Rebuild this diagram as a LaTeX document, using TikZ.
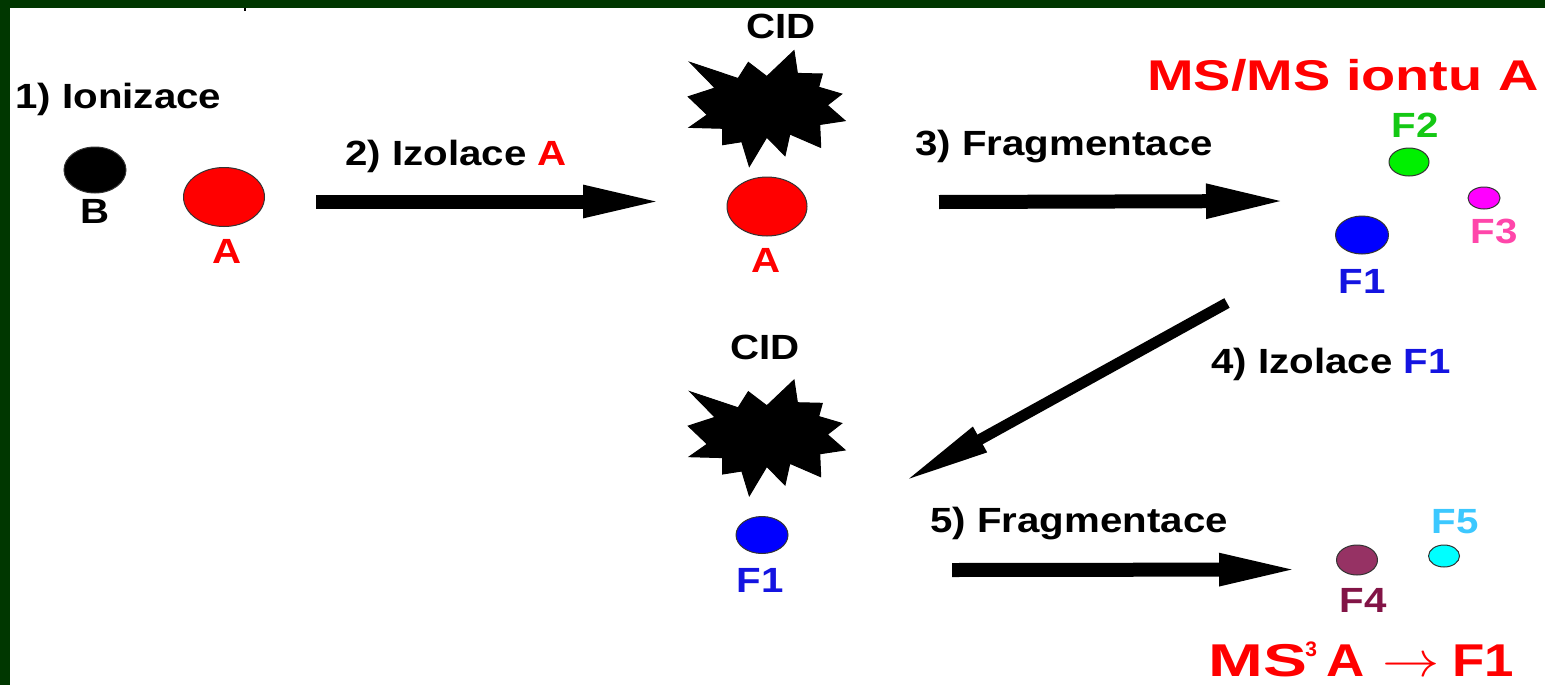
\documentclass[tikz,border=0pt]{standalone}
\usepackage{fontspec}
\usepackage{graphicx}
\setmainfont{Liberation Sans}
\newfontfamily\fa[FakeStretch=1.15]{Liberation Sans}
\newfontfamily\fb[FakeStretch=1.30]{Liberation Sans}
\newfontfamily\fc[FakeStretch=1.43]{Liberation Sans}
\usetikzlibrary{arrows.meta,shapes.geometric}
\definecolor{bgreen}{RGB}{0,55,0}
\definecolor{fred}{RGB}{255,0,0}
\definecolor{fblue}{RGB}{0,0,255}
\definecolor{lblue}{RGB}{20,20,225}
\definecolor{fgreen}{RGB}{0,240,0}
\definecolor{lgreen}{RGB}{20,200,20}
\definecolor{fmag}{RGB}{255,0,255}
\definecolor{lpink}{RGB}{255,70,170}
\definecolor{fpurple}{RGB}{150,50,100}
\definecolor{lpurple}{RGB}{130,20,70}
\definecolor{fcyan}{RGB}{0,255,255}
\definecolor{lcyan}{RGB}{60,200,255}
\begin{document}
\begin{tikzpicture}[x=0.5pt,y=-0.5pt,
  txt/.style={inner sep=0pt, font=\fa\bfseries\fontsize{17.5}{20}\selectfont},
  bigtxt/.style={inner sep=0pt, text=fred, font=\fb\bfseries\fontsize{21.5}{24}\selectfont},
  particle/.style={ellipse, draw=black!80, line width=0.5pt, inner sep=0pt},
  burst/.style={fill=black, draw=black, line width=0.5pt, line join=miter},
  bigarrow/.style={line width=7pt, -{Triangle[length=39pt,width=15pt]}},
  thinarrow/.style={line width=5.5pt, -{Triangle[length=44pt,width=13pt]}},
]
\useasboundingbox (0,0) rectangle (1545,685);
\fill[white] (0,0) rectangle (1545,685);
\fill[bgreen] (0,0) rectangle (1545,8);
\fill[bgreen] (0,0) rectangle (10,685);
\draw[line width=1pt] (245,8) -- (245,11);

% step 1
\node[txt, anchor=base west] (l1) at (15,108) {1) Ionizace};
\node[particle, fill=black, minimum width=31pt, minimum height=23pt] (B) at (95,170) {};
\node[txt, anchor=base] (Bl) at (95,223) {B};
\node[particle, fill=fred, minimum width=40.5pt, minimum height=29.5pt] (A1) at (224,197) {};
\node[txt, anchor=base, text=fred] (A1l) at (227,263) {A};

% step 2
\node[txt, anchor=base west] (l2) at (345,165) {2) Izolace \textcolor{fred}{A}};
\coordinate (a2s) at (316,201.5);
\coordinate (a2e) at (665,201.5);
\draw[bigarrow, -{Triangle[length=41pt,width=14.5pt]}] (a2s) -- (a2e);

% CID bursts
\node[txt, anchor=base] (cid1) at (781,38) {CID};
\coordinate (b1) at (766,108.7);
\coordinate (b2) at (766,438);
\foreach \c in {b1,b2}{
\draw[burst, shift={(\c)}] (-76,-46.3) -- (-27.9,-30.2) -- (-17.7,-46.3) -- (0.8,-32.2) -- (28,-58) -- (31.4,-35.3) -- (56.3,-34.7) -- (52.6,-21.5) -- (75.7,-14.7) -- (61.3,-3.5) -- (79,12) -- (53.7,15.8) -- (54.7,38.7) -- (23.8,25.3) -- (19,47) -- (0.8,28.4) -- (-16.7,57.7) -- (-24.2,33) -- (-43.3,36) -- (-43.4,19.6) -- (-76.7,18.7) -- (-58.7,6.1) -- (-77.7,-12) -- (-50.9,-20.7) -- cycle;
}
\node[particle, fill=fred, minimum width=40pt, minimum height=29.5pt] (A2) at (767,206.5) {};
\node[txt, anchor=base, text=fred] (A2l) at (766,272) {A};

% step 3
\node[txt, anchor=base west] (l3) at (915,155) {3) Fragmentace};
\coordinate (a3s) at (939,202);
\coordinate (a3e) at (1288,201);
\draw[bigarrow, -{Triangle[length=41pt,width=15.5pt]}] (a3s) -- (a3e);

\node[bigtxt, anchor=base west] (ms2) at (1147,90) {MS/MS iontu A};
\node[particle, fill=fgreen, minimum width=20pt, minimum height=14pt] (F2) at (1409,162) {};
\node[txt, anchor=base, text=lgreen] (F2l) at (1415,137) {F2};
\node[particle, fill=fmag, minimum width=16pt, minimum height=11pt] (F3) at (1484,198) {};
\node[txt, anchor=base, text=lpink] (F3l) at (1494,243) {F3};
\node[particle, fill=fblue, minimum width=26.5pt, minimum height=19pt] (F1u) at (1362,235) {};
\node[txt, anchor=base, text=lblue] (F1ul) at (1362,293) {F1};

% step 4
\coordinate (a4s) at (1227,303);
\coordinate (a4e) at (903,482);
\draw[thinarrow] (a4s) -- (a4e);
\node[txt, anchor=base west] (l4) at (1211,373) {4) Izolace \textcolor{lblue}{F1}};

% CID lower
\node[txt, anchor=base] (cid2) at (765,359) {CID};
\node[particle, fill=fblue, minimum width=26pt, minimum height=18.5pt] (F1d) at (762,535) {};
\node[txt, anchor=base, text=lblue] (F1dl) at (760,592) {F1};

% step 5
\node[txt, anchor=base west] (l5) at (930,532) {5) Fragmentace};
\coordinate (a5s) at (952,570);
\coordinate (a5e) at (1301,569.5);
\draw[bigarrow, -{Triangle[length=41pt,width=14.5pt]}] (a5s) -- (a5e);
\node[particle, fill=fpurple, minimum width=20.5pt, minimum height=15pt] (F4) at (1357,560) {};
\node[txt, anchor=base, text=lpurple] (F4l) at (1363,612) {F4};
\node[particle, fill=fcyan, minimum width=15.5pt, minimum height=11pt] (F5) at (1444,556) {};
\node[txt, anchor=base, text=lcyan] (F5l) at (1455,533) {F5};

% MS3
\node[inner sep=0pt, text=fred, font=\fc\bfseries\fontsize{23}{26}\selectfont, anchor=base west] (ms3a) at (1208,676) {MS};
\node[inner sep=0pt, text=fred, font=\bfseries\fontsize{10.5}{12}\selectfont, anchor=base west] (ms3b) at (1305,656) {3};
\node[inner sep=0pt, text=fred, font=\fa\bfseries\fontsize{23}{26}\selectfont, anchor=base west] (ms3c) at (1326,676) {A};
\node[inner sep=0pt, text=fred, font=\fontsize{23}{26}\selectfont, anchor=base west] (ms3d) at (1382,676) {\scalebox{1.15}[1]{$\rightarrow$}};
\node[inner sep=0pt, text=fred, font=\fa\bfseries\fontsize{23}{26}\selectfont, anchor=base west] (ms3e) at (1452,676) {F1};
\end{tikzpicture}
\end{document}
